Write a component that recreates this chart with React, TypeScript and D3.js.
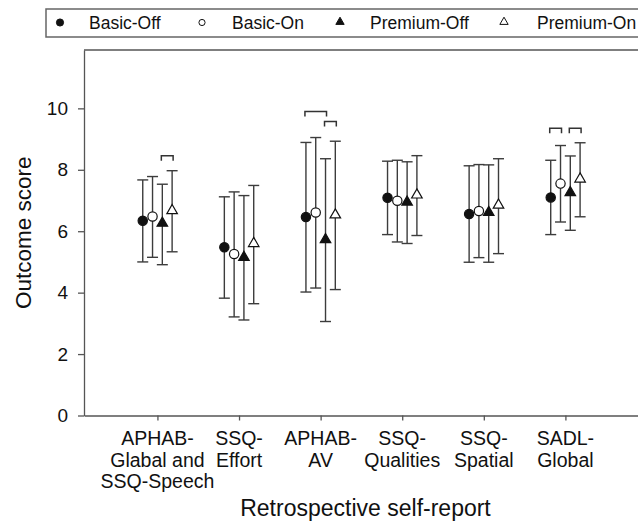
import React, { useEffect, useRef } from 'react';
import * as d3 from 'd3';

// categories (x axis) - label lines as printed
const categoryLines = [
    ['APHAB-', 'Glabal and', 'SSQ-Speech'],
    ['SSQ-', 'Effort'],
    ['APHAB-', 'AV'],
    ['SSQ-', 'Qualities'],
    ['SSQ-', 'Spatial'],
    ['SADL-', 'Global'],
];

const seriesNames = ['Basic-Off', 'Basic-On', 'Premium-Off', 'Premium-On'];

// means
const basicOff = [6.34, 5.48, 6.46, 7.09, 6.56, 7.10];
const basicOn = [6.48, 5.26, 6.61, 6.99, 6.66, 7.55];
const premiumOff = [6.26, 5.15, 5.73, 6.95, 6.61, 7.26];
const premiumOn = [6.67, 5.60, 6.53, 7.18, 6.85, 7.70];

// error bar upper ends
const basicOffHi = [7.67, 7.12, 8.89, 8.28, 8.13, 8.31];
const basicOnHi = [7.78, 7.28, 9.05, 8.31, 8.17, 8.79];
const premiumOffHi = [7.53, 7.16, 8.36, 8.26, 8.16, 8.45];
const premiumOnHi = [7.97, 7.49, 8.93, 8.46, 8.36, 8.88];

// error bar lower ends
const basicOffLo = [5.00, 3.82, 4.02, 5.89, 4.99, 5.89];
const basicOnLo = [5.15, 3.21, 4.15, 5.65, 5.14, 6.30];
const premiumOffLo = [4.91, 3.11, 3.06, 5.60, 4.99, 6.03];
const premiumOnLo = [5.33, 3.64, 4.10, 5.86, 5.27, 6.47];

// significance brackets: category index, series from/to, height
const bracketCat = [0, 2, 2, 5, 5];
const bracketFrom = [2, 0, 2, 0, 2];
const bracketTo = [3, 2, 3, 1, 3];
const bracketY = [8.46, 9.9, 9.57, 9.35, 9.35];

const yTicks = [0, 2, 4, 6, 8, 10];

const FONT = '"Liberation Sans", Arial, Helvetica, sans-serif';

function App() {
    const svgRef = useRef(null);

    useEffect(() => {
        const width = 638;
        const height = 523;
        const svg = d3.select(svgRef.current);
        svg.selectAll('*').remove();

        const x = d3.scaleLinear().domain([0.1, 7]).range([84, 647]);
        const y = d3.scaleLinear().domain([0, 11.9]).range([415.5, 50]);
        const offsets = [-0.18, -0.06, 0.06, 0.18];

        const means = [basicOff, basicOn, premiumOff, premiumOn];
        const his = [basicOffHi, basicOnHi, premiumOffHi, premiumOnHi];
        const los = [basicOffLo, basicOnLo, premiumOffLo, premiumOnLo];

        svg.append('rect').attr('width', width).attr('height', height).attr('fill', '#fff');

        // top frame
        svg.append('line')
            .attr('x1', x(0.1)).attr('x2', x(7))
            .attr('y1', y(11.9)).attr('y2', y(11.9))
            .attr('stroke', '#555').attr('stroke-width', 1.3);

        // axes
        const yAxis = svg.append('g')
            .attr('transform', `translate(${x(0.1)},0)`)
            .call(d3.axisLeft(y).tickValues(yTicks).tickSize(6).tickSizeOuter(0).tickPadding(10));
        yAxis.selectAll('text').attr('font-family', FONT).attr('font-size', 19).attr('fill', '#111');

        const xAxis = svg.append('g')
            .attr('transform', `translate(0,${y(0)})`)
            .call(d3.axisBottom(x).tickValues([1, 2, 3, 4, 5, 6]).tickSize(5).tickSizeOuter(0).tickFormat(() => ''));

        svg.selectAll('.domain, .tick line').attr('stroke', '#555').attr('stroke-width', 1.3);

        // category labels
        categoryLines.forEach((lines, i) => {
            const t = svg.append('text')
                .attr('x', x(i + 1))
                .attr('y', 445)
                .attr('text-anchor', 'middle')
                .attr('font-family', FONT)
                .attr('font-size', 19.5)
                .attr('fill', '#111');
            lines.forEach((ln, k) => {
                t.append('tspan').attr('x', x(i + 1)).attr('dy', k === 0 ? 0 : 21.7).text(ln);
            });
        });

        // axis titles
        svg.append('text')
            .attr('x', (x(0.1) + x(7)) / 2)
            .attr('y', 516)
            .attr('text-anchor', 'middle')
            .attr('font-family', FONT)
            .attr('font-size', 23)
            .attr('fill', '#111')
            .text('Retrospective self-report');

        svg.append('text')
            .attr('transform', `translate(30.5,${(y(0) + y(11.9)) / 2}) rotate(-90)`)
            .attr('text-anchor', 'middle')
            .attr('font-family', FONT)
            .attr('font-size', 22.5)
            .attr('fill', '#111')
            .text('Outcome score');

        // error bars
        const cap = 5.5;
        means.forEach((vals, s) => {
            const g = svg.append('g').attr('stroke', '#3c3c3c').attr('stroke-width', 1.4);
            vals.forEach((v, i) => {
                const cx = x(i + 1 + offsets[s]);
                g.append('line').attr('x1', cx).attr('x2', cx).attr('y1', y(his[s][i])).attr('y2', y(los[s][i]));
                g.append('line').attr('x1', cx - cap).attr('x2', cx + cap).attr('y1', y(his[s][i])).attr('y2', y(his[s][i]));
                g.append('line').attr('x1', cx - cap).attr('x2', cx + cap).attr('y1', y(los[s][i])).attr('y2', y(los[s][i]));
            });
        });

        // markers
        const symbolFor = (s, size) => d3.symbol()
            .type(s < 2 ? d3.symbolCircle : d3.symbolTriangle)
            .size(size)();
        const fillFor = s => (s % 2 === 0 ? '#111' : '#fff');

        means.forEach((vals, s) => {
            svg.append('g')
                .selectAll('path')
                .data(vals)
                .join('path')
                .attr('transform', (d, i) => `translate(${x(i + 1 + offsets[s])},${y(d)})`)
                .attr('d', symbolFor(s, s < 2 ? 68 : 48))
                .attr('fill', fillFor(s))
                .attr('stroke', '#111')
                .attr('stroke-width', 1.2);
        });

        // brackets
        bracketCat.forEach((c, k) => {
            const x1 = x(c + 1 + offsets[bracketFrom[k]]) - 1;
            const x2 = x(c + 1 + offsets[bracketTo[k]]) + 1;
            const yy = y(bracketY[k]);
            svg.append('path')
                .attr('d', `M${x1},${yy + 5}V${yy}H${x2}V${yy + 5}`)
                .attr('fill', 'none')
                .attr('stroke', '#333')
                .attr('stroke-width', 1.5);
        });

        // legend
        const legend = svg.append('g');
        legend.append('path')
            .attr('d', `M${width + 2},9H46V37H${width + 2}`)
            .attr('fill', 'none')
            .attr('stroke', '#666')
            .attr('stroke-width', 1.5);
        const legMarkX = [60, 202, 340, 504];
        const legTextX = [89, 232, 370, 537];
        seriesNames.forEach((name, s) => {
            legend.append('path')
                .attr('transform', `translate(${legMarkX[s]},${s < 2 ? 22.5 : 22})`)
                .attr('d', symbolFor(s, s < 2 ? (s === 0 ? 40 : 30) : 30))
                .attr('fill', fillFor(s))
                .attr('stroke', '#111')
                .attr('stroke-width', 1);
            legend.append('text')
                .attr('x', legTextX[s])
                .attr('y', 28.5)
                .attr('font-family', FONT)
                .attr('font-size', 17.5)
                .attr('fill', '#111')
                .text(name);
        });
    }, []);

    return (
        <svg ref={svgRef} width={638} height={523} style={{ position: 'absolute', left: 0, top: 0 }}></svg>
    );
}

export default App;
